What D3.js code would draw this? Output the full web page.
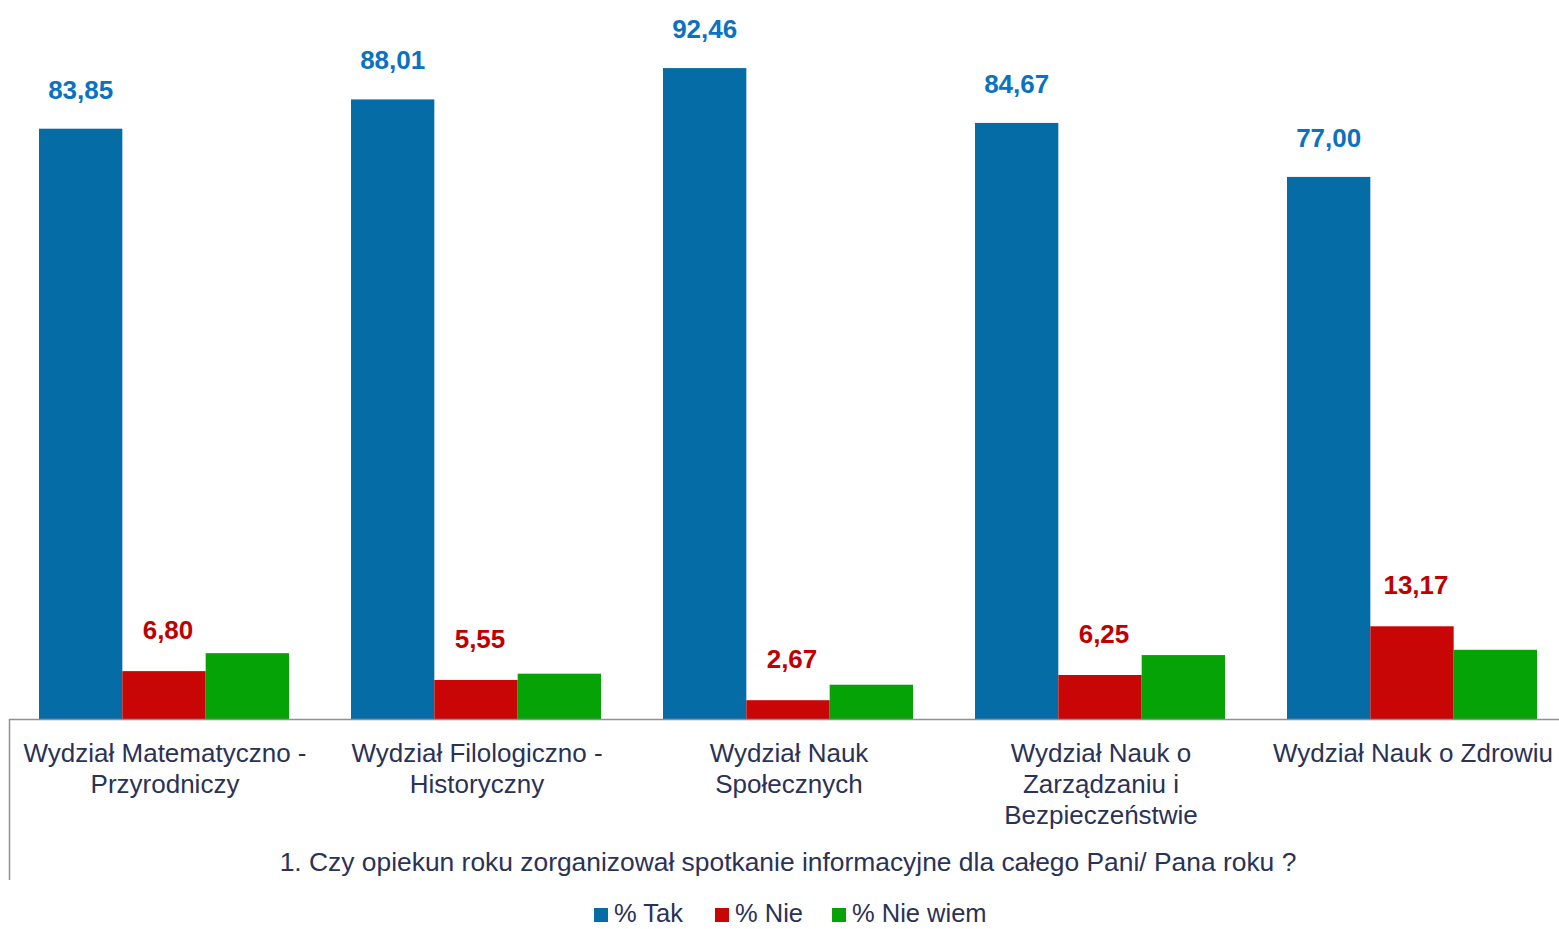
<!DOCTYPE html>
<html>
<head>
<meta charset="utf-8">
<script src="https://cdn.jsdelivr.net/npm/d3@7"></script>
<style>
  body { margin: 0; background: #fff; }
  text { font-family: "Liberation Sans", Arial, sans-serif; }
</style>
</head>
<body>
<svg id="graph"></svg>
<script>
const width = 1559;
const height = 929;

// data
const categories = [
  ["Wydział Matematyczno -", "Przyrodniczy"],
  ["Wydział Filologiczno -", "Historyczny"],
  ["Wydział Nauk", "Społecznych"],
  ["Wydział Nauk o", "Zarządzaniu i", "Bezpieczeństwie"],
  ["Wydział Nauk o Zdrowiu"]
];
const seriesNames = ["% Tak", "% Nie", "% Nie wiem"];
const tak = [83.85, 88.01, 92.46, 84.67, 77.00];
const nie = [6.80, 5.55, 2.67, 6.25, 13.17];
const nieWiem = [9.35, 6.44, 4.87, 9.08, 9.83];
const title = "1. Czy opiekun roku zorganizował spotkanie informacyjne dla całego Pani/ Pana roku ?";

const colors = ["#066ca6", "#c80606", "#06a306"];
const labelColors = ["#0b72c1", "#c00000", null];

let svg = d3.select('#graph')
        .attr('width', width)
        .attr('height', height);

let chart = svg.append("g");

let x0 = d3.scaleBand().domain(d3.range(categories.length)).range([9, 9 + 312 * 5]).paddingInner(0).paddingOuter(0);
let x1 = d3.scaleBand().domain(d3.range(3)).range([30, 280]);
let y = d3.scaleLinear().domain([0, 100]).range([719, 15]);

let values = [tak, nie, nieWiem];

//////// bars
for (let s = 0; s < 3; s++) {
  chart.selectAll(".bar" + s)
    .data(values[s])
    .enter().append("rect")
    .attr("class", "bar" + s)
    .attr("x", (d, i) => x0(i) + x1(s))
    .attr("y", d => y(d))
    .attr("width", x1.bandwidth())
    .attr("height", d => y(0) - y(d))
    .attr("fill", colors[s]);

  if (labelColors[s]) {
    chart.selectAll(".lab" + s)
      .data(values[s])
      .enter().append("text")
      .attr("x", (d, i) => x0(i) + x1(s) + x1.bandwidth() / 2 + (s == 1 ? 4 : 0))
      .attr("y", d => y(d) - (s == 0 ? 30 : 32))
      .attr("text-anchor", "middle")
      .attr("font-size", 26)
      .attr("font-weight", "bold")
      .attr("fill", labelColors[s])
      .text(d => d.toFixed(2).replace(".", ","));
  }
}

//////// axis
chart.append("line")
  .attr("x1", 9).attr("x2", width)
  .attr("y1", y(0) + 0.5).attr("y2", y(0) + 0.5)
  .style("stroke", "#8e8fa0").style("stroke-width", 1.5);
chart.append("line")
  .attr("x1", 9.5).attr("x2", 9.5)
  .attr("y1", y(0)).attr("y2", 880)
  .style("stroke", "#8e8fa0").style("stroke-width", 1.5);

categories.forEach((lines, i) => {
  let t = chart.append("text")
    .attr("text-anchor", "middle")
    .attr("font-size", 26)
    .attr("fill", "#2a3256");
  lines.forEach((l, j) => {
    t.append("tspan")
      .attr("x", x0(i) + x0.bandwidth() / 2)
      .attr("y", 762 + j * 31)
      .text(l);
  });
});

chart.append("text")
  .attr("x", 788).attr("y", 871)
  .attr("text-anchor", "middle")
  .attr("font-size", 26.4)
  .attr("fill", "#2a3256")
  .text(title);

//////// legend
let legendX = [594, 715, 832];
let legend = chart.append("g");
seriesNames.forEach((n, i) => {
  legend.append("rect")
    .attr("x", legendX[i]).attr("y", 908)
    .attr("width", 14).attr("height", 14)
    .attr("fill", colors[i]);
  legend.append("text")
    .attr("x", legendX[i] + 20).attr("y", 922)
    .attr("font-size", 25.5)
    .attr("fill", "#2a3256")
    .text(n);
});
</script>
</body>
</html>
